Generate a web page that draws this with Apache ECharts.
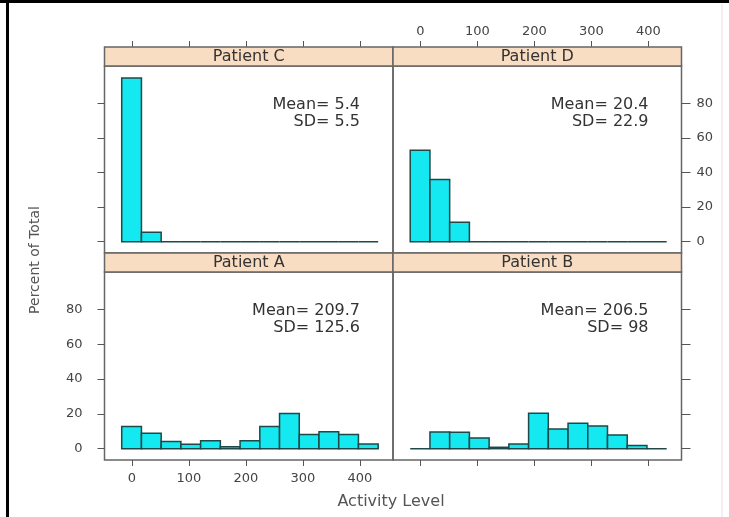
<!DOCTYPE html>
<html><head><meta charset="utf-8">
<script src="https://cdn.jsdelivr.net/npm/echarts@6/dist/echarts.min.js"></script>
<style>html,body{margin:0;padding:0;background:#fff}#c{width:729px;height:517px}</style>
</head><body><div id="c"></div>
<script>
// Histogram bin edges (Activity Level) shared by all panels
const binEdges = [-17.8, 16.8, 51.4, 86.0, 120.6, 155.2, 189.8, 224.4, 259.0, 293.6, 328.2, 362.8, 397.4, 432.0];
// Percent of total per bin
const patientA = [12.8, 8.9, 4.1, 2.5, 4.6, 1.1, 4.6, 12.8, 20.2, 8.1, 9.7, 8.1, 2.7];
const patientB = [0, 9.6, 9.4, 6.2, 0.8, 2.7, 20.4, 11.3, 14.6, 13.1, 7.9, 1.9, 0];
const patientC = [94.5, 5.5, 0, 0, 0, 0, 0, 0, 0, 0, 0, 0, 0];
const patientD = [52.8, 35.9, 11.3, 0, 0, 0, 0, 0, 0, 0, 0, 0, 0];
const panelNames = ['Patient A', 'Patient B', 'Patient C', 'Patient D'];
const meanLabels = ['209.7', '206.5', '5.4', '20.4'];
const sdLabels = ['125.6', '98', '5.5', '22.9'];
const xTicks = [0, 100, 200, 300, 400];
const yTicks = [0, 20, 40, 60, 80];
const xTitle = 'Activity Level';
const yTitle = 'Percent of Total';

const seriesValues = [patientA, patientB, patientC, patientD];
const FONT = 'DejaVu Sans';
const colLeft = [104.5, 393];
const panelW = 288.5;
const rowTop = [272, 66];     // plot top: row0 = bottom row, row1 = top row
const rowH = [188, 187];
const stripH = 19;
const X_MIN = -48, X_MAX = 458, Y_MIN = -6.5, Y_MAX = 101.5;

const grids = [], xAxes = [], yAxes = [], series = [], graphics = [];
for (let i = 0; i < 4; i++) {
  const col = i % 2, row = i < 2 ? 0 : 1;
  const left = colLeft[col], top = rowTop[row], h = rowH[row];
  grids.push({left: left, top: top, width: panelW, height: h, show: true,
    borderColor: '#666', borderWidth: 1.5, backgroundColor: 'transparent'});
  const showXLab = (i === 0 || i === 3);
  const showYLab = (i === 0 || i === 3);
  xAxes.push({gridIndex: i, type: 'value', min: X_MIN, max: X_MAX,
    position: row === 0 ? 'bottom' : 'top', offset: row === 0 ? 0 : stripH,
    splitLine: {show: false}, axisLine: {show: false, onZero: false},
    axisTick: {show: true, inside: false, length: 6, customValues: xTicks, lineStyle: {color: '#555', width: 1}},
    axisLabel: {show: showXLab, customValues: xTicks, margin: row === 0 ? 12 : 9,
      fontSize: 13, color: '#444', fontFamily: FONT}});
  yAxes.push({gridIndex: i, type: 'value', min: Y_MIN, max: Y_MAX,
    position: col === 0 ? 'left' : 'right',
    splitLine: {show: false}, axisLine: {show: false, onZero: false},
    axisTick: {show: true, inside: false, length: col === 0 ? 7 : 9, customValues: yTicks, lineStyle: {color: '#555', width: 1}},
    axisLabel: {show: showYLab, customValues: yTicks, margin: col === 0 ? 22 : 15,
      fontSize: 13, color: '#444', fontFamily: FONT}});
  const vals = seriesValues[i];
  const data = vals.map((v, k) => [binEdges[k], binEdges[k + 1], v]);
  series.push({type: 'custom', xAxisIndex: i, yAxisIndex: i, data: data,
    encode: {x: [0, 1], y: 2},
    renderItem: function (params, api) {
      const a = api.coord([api.value(0), 0]);
      const b = api.coord([api.value(1), api.value(2)]);
      return {type: 'rect',
        shape: {x: a[0], y: b[1], width: b[0] - a[0], height: a[1] - b[1]},
        style: {fill: '#14e8f0', stroke: '#1f4848', lineWidth: 1.5}};
    }});
  // strip
  graphics.push({type: 'rect', z: 10,
    shape: {x: left, y: top - stripH, width: panelW, height: stripH},
    style: {fill: '#f9ddc2', stroke: '#666', lineWidth: 1.5}});
  graphics.push({type: 'text', z: 11, x: left + panelW / 2, y: top - stripH / 2,
    style: {text: panelNames[i], fontSize: 16, fontFamily: FONT, fill: '#333',
      align: 'center', verticalAlign: 'middle'}});
  // mean / sd annotation
  graphics.push({type: 'text', z: 11, x: left + panelW - 33, y: top + 30,
    style: {text: 'Mean= ' + meanLabels[i] + '\nSD= ' + sdLabels[i], fontSize: 16,
      lineHeight: 17, fontFamily: FONT, fill: '#333', align: 'right', verticalAlign: 'top'}});
}
// axis titles
graphics.push({type: 'text', z: 11, x: 35, y: 260, rotation: Math.PI / 2,
  style: {text: yTitle, fontSize: 14, fontFamily: FONT, fill: '#555', align: 'center', verticalAlign: 'middle'}});
graphics.push({type: 'text', z: 11, x: 391, y: 502,
  style: {text: xTitle, fontSize: 16, fontFamily: FONT, fill: '#555', align: 'center', verticalAlign: 'middle'}});
// image frame
graphics.push({type: 'rect', z: 20, shape: {x: 0, y: 0, width: 729, height: 3}, style: {fill: '#000'}});
graphics.push({type: 'rect', z: 20, shape: {x: 6, y: 0, width: 3, height: 517}, style: {fill: '#000'}});
graphics.push({type: 'line', z: 20, shape: {x1: 722, y1: 4, x2: 722, y2: 517}, style: {stroke: '#e2e2e2', lineWidth: 1}});

const chart = echarts.init(document.getElementById('c'), null, {renderer: 'canvas'});
chart.setOption({
  backgroundColor: '#fff',
  animation: false,
  grid: grids, xAxis: xAxes, yAxis: yAxes, series: series, graphic: graphics
});
</script></body></html>
